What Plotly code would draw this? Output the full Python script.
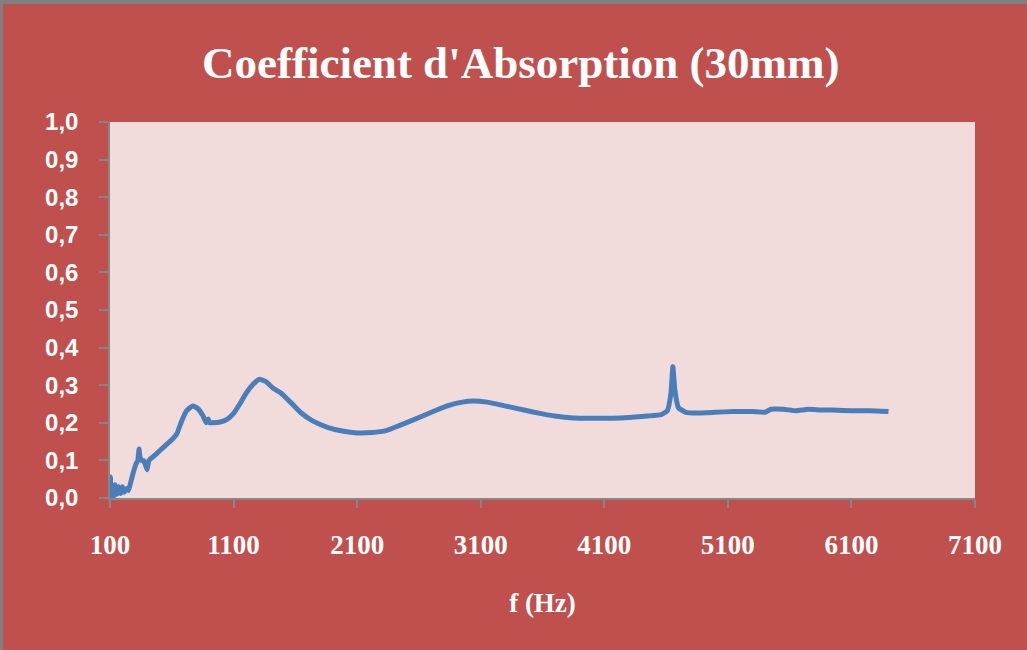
import plotly.graph_objects as go

# Frequency (Hz) and absorption coefficient
freq = [100, 104, 108, 115, 125, 140, 155, 170, 185, 200, 215, 235, 250, 270, 290,
        310, 325, 335, 342, 355, 370, 385, 400, 415, 450, 500, 550, 600, 640, 680,
        720, 770, 810, 850, 880, 895, 905, 930, 990, 1050, 1100, 1150, 1200, 1260,
        1310, 1360, 1420, 1480, 1560, 1640, 1740, 1860, 1980, 2100, 2220, 2340,
        2450, 2550, 2700, 2830, 2950, 3040, 3150, 3310, 3450, 3580, 3700, 3850,
        4000, 4170, 4300, 4450, 4560, 4610, 4640, 4655, 4670, 4700, 4760, 4850,
        5000, 5140, 5300, 5400, 5450, 5550, 5650, 5750, 5850, 5950, 6100, 6250, 6400]
alpha = [0.0, 0.056, 0.005, 0.03, 0.0, 0.035, 0.01, 0.03, 0.012, 0.03, 0.015, 0.025,
         0.02, 0.045, 0.07, 0.09, 0.1, 0.13, 0.11, 0.1, 0.1, 0.09, 0.075, 0.1, 0.11,
         0.125, 0.14, 0.155, 0.17, 0.205, 0.232, 0.245, 0.238, 0.22, 0.2, 0.21, 0.2,
         0.2, 0.202, 0.21, 0.225, 0.25, 0.278, 0.303, 0.316, 0.31, 0.292, 0.28, 0.255,
         0.228, 0.205, 0.188, 0.178, 0.173, 0.174, 0.18, 0.194, 0.207, 0.228, 0.245,
         0.255, 0.258, 0.255, 0.244, 0.234, 0.225, 0.218, 0.213, 0.212, 0.212, 0.214,
         0.218, 0.222, 0.232, 0.28, 0.349, 0.29, 0.24, 0.228, 0.226, 0.228, 0.23, 0.23,
         0.228, 0.236, 0.236, 0.232, 0.236, 0.234, 0.234, 0.232, 0.232, 0.23]

x_ticks = [100, 1100, 2100, 3100, 4100, 5100, 6100, 7100]
y_ticks = [0.0, 0.1, 0.2, 0.3, 0.4, 0.5, 0.6, 0.7, 0.8, 0.9, 1.0]
y_tick_text = [f"{v:.1f}".replace(".", ",") for v in y_ticks]

RED = "#C0504D"
PINK = "#F2DCDB"
BLUE = "#4A7EBB"
GRAY = "#868686"

fig = go.Figure()
fig.add_trace(go.Scatter(x=freq, y=alpha, mode="lines",
                         line=dict(color=BLUE, width=5, shape="spline", smoothing=0.4),
                         showlegend=False))

fig.update_layout(
    width=1027, height=650,
    paper_bgcolor=RED, plot_bgcolor=PINK,
    margin=dict(l=110, r=52, t=122, b=152),
    title=dict(text="Coefficient d'Absorption (30mm)",
               font=dict(family="Liberation Serif", size=45, color="white", weight="bold"),
               x=0.507, xanchor="center", y=1 - 62 / 650, yanchor="middle", yref="container"),
    xaxis=dict(range=[100, 7100], tickvals=x_ticks, ticktext=[str(v) for v in x_ticks],
               showgrid=False, zeroline=False, showline=True, linecolor=GRAY, linewidth=1.5,
               ticks="outside", ticklen=8, tickcolor=GRAY, tickwidth=1.5,
               tickfont=dict(family="Liberation Serif", size=27, color="white", weight="bold"),
               ticklabelstandoff=14,
               title=dict(text="f (Hz)", standoff=34,
                          font=dict(family="Liberation Serif", size=27, color="white", weight="bold"))),
    yaxis=dict(range=[0, 1], tickvals=y_ticks, ticktext=y_tick_text,
               showgrid=False, zeroline=False, showline=True, linecolor=GRAY, linewidth=1.5,
               ticks="outside", ticklen=9, tickcolor=GRAY, tickwidth=1.5,
               tickfont=dict(family="Liberation Sans", size=24, color="white", weight="bold"),
               ticklabelstandoff=16),
)

# thin grey frame at the top and left edges of the image
fig.add_shape(type="rect", xref="paper", yref="paper",
              x0=(0 - 110) / 865, x1=(1027 - 110) / 865,
              y0=(498 - 4) / 376, y1=(498 - 0) / 376,
              fillcolor="#808080", line=dict(width=0))
fig.add_shape(type="rect", xref="paper", yref="paper",
              x0=(0 - 110) / 865, x1=(3 - 110) / 865,
              y0=(498 - 650) / 376, y1=(498 - 0) / 376,
              fillcolor="#808080", line=dict(width=0))

fig.write_html("out.html", config={"displayModeBar": False},
               post_script="document.body.style.margin='0';document.body.style.overflow='hidden';")
